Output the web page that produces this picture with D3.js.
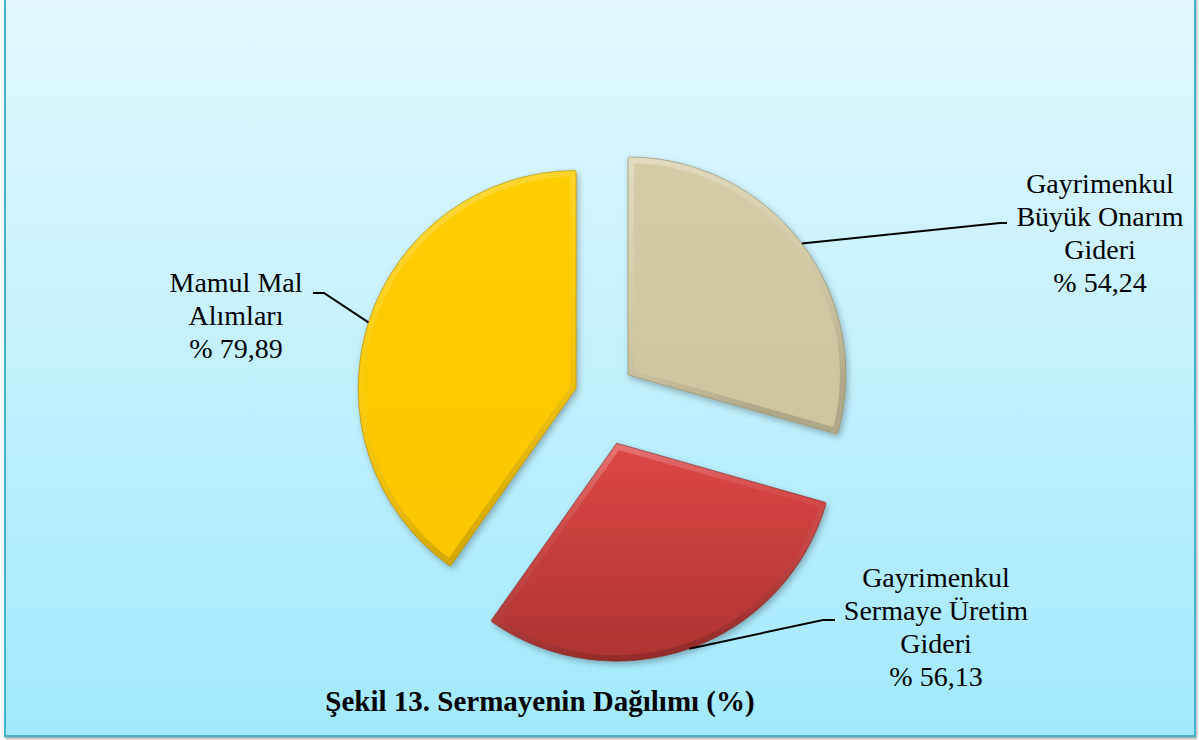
<!DOCTYPE html>
<html>
<head>
<meta charset="utf-8">
<script src="https://cdn.jsdelivr.net/npm/d3@7"></script>
<style>
  body { margin: 0; background: #ffffff; }
  svg { display: block; }
</style>
</head>
<body>
<svg class="chart"></svg>
<script>
// Dilim adları (satır satır)
var names = [
  ["Gayrimenkul", "Büyük Onarım", "Gideri"],
  ["Gayrimenkul", "Sermaye Üretim", "Gideri"],
  ["Mamul Mal", "Alımları"]
];
// Etiketlerde yazan yüzdeler
var percents = [54.24, 56.13, 79.89];
// Resimdeki dilim açılarından okunan paylar
var shares = [29.4, 30.4, 40.2];
var title = "Şekil 13. Sermayenin Dağılımı (%)";

var width = 1199, height = 740;
var cx = 600, cy = 396, radius = 218;
var explode = [35, 50, 25];

// renkler: üst / alt / kenar
var fills = [
  { top: "#d5cca7", bottom: "#cec59f", edge: "#8f8563" },
  { top: "#dd4746", bottom: "#ae3330", edge: "#7d2220" },
  { top: "#ffcd04", bottom: "#fbc600", edge: "#a88400" }
];

// etiket yerleşimi (metin merkezi, ilk satır taban çizgisi, kırılma noktası)
var labelPos = [
  { x: 1100, y: 193, elbow: [1000, 223], end: 1007 },
  { x: 936, y: 587, elbow: [823, 620], end: 835 },
  { x: 236, y: 292, elbow: [324, 293], end: 313 }
];
var lineH = 33;

var svg = d3.select(".chart")
    .attr("width", width)
    .attr("height", height);

var defs = svg.append("defs");

// arka plan degrade
var bg = defs.append("linearGradient").attr("id", "bg")
    .attr("x1", 0).attr("y1", 0).attr("x2", 0).attr("y2", 1);
bg.append("stop").attr("offset", "0%").attr("stop-color", "#e2f8fe");
bg.append("stop").attr("offset", "100%").attr("stop-color", "#a2e9fd");

var frameShadow = defs.append("filter").attr("id", "frameShadow")
    .attr("x", "-2%").attr("y", "-2%").attr("width", "104%").attr("height", "104%");
frameShadow.append("feDropShadow")
    .attr("dx", 1).attr("dy", 2).attr("stdDeviation", 1.2)
    .attr("flood-color", "#000").attr("flood-opacity", 0.35);

var sliceShadow = defs.append("filter").attr("id", "sliceShadow")
    .attr("x", "-20%").attr("y", "-20%").attr("width", "140%").attr("height", "140%");
sliceShadow.append("feDropShadow")
    .attr("dx", 2).attr("dy", 3).attr("stdDeviation", 3)
    .attr("flood-color", "#000").attr("flood-opacity", 0.28);

var rim = defs.append("linearGradient").attr("id", "rim")
    .attr("x1", 0).attr("y1", 0).attr("x2", 0.3).attr("y2", 1);
rim.append("stop").attr("offset", "0%").attr("stop-color", "#fff").attr("stop-opacity", 0.3);
rim.append("stop").attr("offset", "45%").attr("stop-color", "#fff").attr("stop-opacity", 0.05);
rim.append("stop").attr("offset", "100%").attr("stop-color", "#000").attr("stop-opacity", 0.15);

fills.forEach(function(f, i) {
  var g = defs.append("linearGradient").attr("id", "fill" + i)
      .attr("x1", 0).attr("y1", 0).attr("x2", 0).attr("y2", 1);
  g.append("stop").attr("offset", "0%").attr("stop-color", f.top);
  g.append("stop").attr("offset", "100%").attr("stop-color", f.bottom);
});

// çerçeve
svg.append("rect")
    .attr("x", 5).attr("y", -2)
    .attr("width", 1190).attr("height", 738)
    .attr("fill", "url(#bg)")
    .attr("stroke", "#47b1d1")
    .attr("stroke-width", 2)
    .attr("filter", "url(#frameShadow)");

var pie = d3.pie().sort(null).value(function(d) { return d; });
var arcs = pie(shares);

var arc = d3.arc().innerRadius(0).outerRadius(radius).cornerRadius(2);

var slices = svg.selectAll(".slice")
    .data(arcs)
  .enter().append("g")
    .attr("class", "slice")
    .attr("transform", function(d, i) {
      var m = (d.startAngle + d.endAngle) / 2;
      return "translate(" + (cx + explode[i] * Math.sin(m)) + "," + (cy - explode[i] * Math.cos(m)) + ")";
    })
    .attr("filter", "url(#sliceShadow)");

slices.each(function(d, i) {
  var s = d3.select(this);
  defs.append("clipPath").attr("id", "clip" + i)
    .append("path").attr("d", arc(d));
  s.append("path")
      .attr("d", arc(d))
      .attr("fill", "url(#fill" + i + ")");
  // kabartma kenarı
  s.append("path")
      .attr("d", arc(d))
      .attr("fill", "none")
      .attr("stroke", "url(#rim)")
      .attr("stroke-width", 12)
      .attr("clip-path", "url(#clip" + i + ")");
  s.append("path")
      .attr("d", arc(d))
      .attr("fill", "none")
      .attr("stroke", fills[i].edge)
      .attr("stroke-opacity", 0.6)
      .attr("stroke-width", 1);
});

// etiket çizgileri ve metinleri
arcs.forEach(function(d, i) {
  var m = (d.startAngle + d.endAngle) / 2;
  var r = explode[i] + radius;
  var p0 = [cx + r * Math.sin(m), cy - r * Math.cos(m)];
  var lp = labelPos[i];
  svg.append("path")
      .attr("d", d3.line()([p0, lp.elbow, [lp.end, lp.elbow[1]]]))
      .attr("fill", "none")
      .attr("stroke", "#000")
      .attr("stroke-width", 2);

  var lines = names[i].concat(["% " + d3.format(".2f")(percents[i]).replace(".", ",")]);
  var t = svg.append("text")
      .attr("x", lp.x)
      .attr("y", lp.y)
      .attr("text-anchor", "middle")
      .style("font-family", "'Liberation Serif', 'Times New Roman', serif")
      .style("font-size", "28px")
      .attr("fill", "#000");
  lines.forEach(function(l, j) {
    t.append("tspan")
        .attr("x", lp.x)
        .attr("y", lp.y + j * lineH)
        .text(l);
  });
});

// başlık
svg.append("text")
    .attr("x", 540)
    .attr("y", 711)
    .attr("text-anchor", "middle")
    .style("font-family", "'Liberation Serif', 'Times New Roman', serif")
    .style("font-size", "29px")
    .style("font-weight", "bold")
    .attr("fill", "#000")
    .text(title);
</script>
</body>
</html>
